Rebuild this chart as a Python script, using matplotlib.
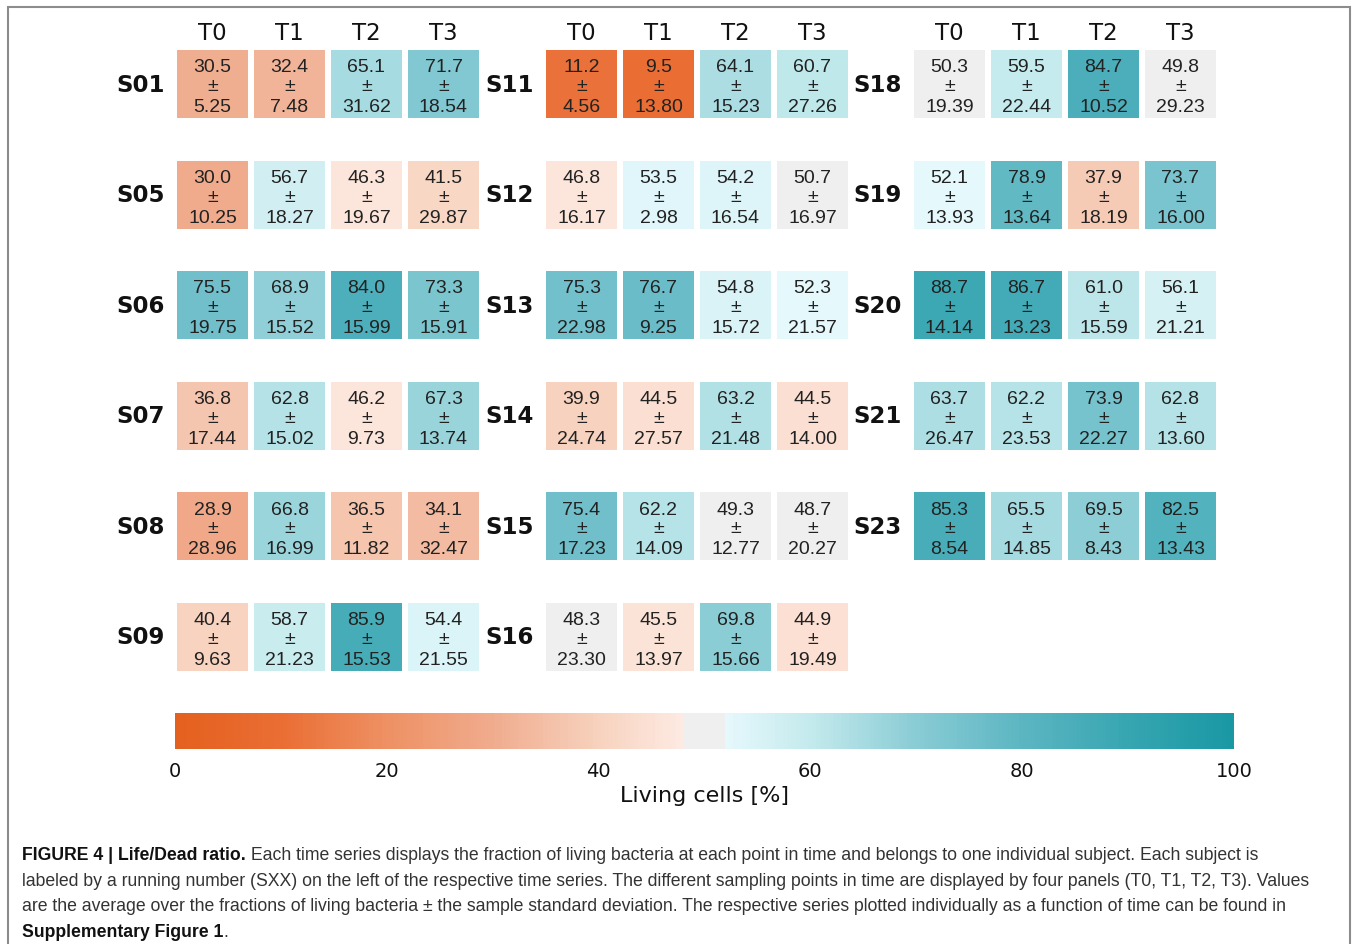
import matplotlib.pyplot as plt
from matplotlib.colors import LinearSegmentedColormap
from matplotlib.patches import Rectangle
import numpy as np

# living cell fractions (mean, std) per subject, time points T0..T3
times = ["T0", "T1", "T2", "T3"]

group1 = ["S01", "S05", "S06", "S07", "S08", "S09"]
mean1 = [[30.5, 32.4, 65.1, 71.7],
         [30.0, 56.7, 46.3, 41.5],
         [75.5, 68.9, 84.0, 73.3],
         [36.8, 62.8, 46.2, 67.3],
         [28.9, 66.8, 36.5, 34.1],
         [40.4, 58.7, 85.9, 54.4]]
std1 = [[5.25, 7.48, 31.62, 18.54],
        [10.25, 18.27, 19.67, 29.87],
        [19.75, 15.52, 15.99, 15.91],
        [17.44, 15.02, 9.73, 13.74],
        [28.96, 16.99, 11.82, 32.47],
        [9.63, 21.23, 15.53, 21.55]]

group2 = ["S11", "S12", "S13", "S14", "S15", "S16"]
mean2 = [[11.2, 9.5, 64.1, 60.7],
         [46.8, 53.5, 54.2, 50.7],
         [75.3, 76.7, 54.8, 52.3],
         [39.9, 44.5, 63.2, 44.5],
         [75.4, 62.2, 49.3, 48.7],
         [48.3, 45.5, 69.8, 44.9]]
std2 = [[4.56, 13.80, 15.23, 27.26],
        [16.17, 2.98, 16.54, 16.97],
        [22.98, 9.25, 15.72, 21.57],
        [24.74, 27.57, 21.48, 14.00],
        [17.23, 14.09, 12.77, 20.27],
        [23.30, 13.97, 15.66, 19.49]]

group3 = ["S18", "S19", "S20", "S21", "S23"]
mean3 = [[50.3, 59.5, 84.7, 49.8],
         [52.1, 78.9, 37.9, 73.7],
         [88.7, 86.7, 61.0, 56.1],
         [63.7, 62.2, 73.9, 62.8],
         [85.3, 65.5, 69.5, 82.5]]
std3 = [[19.39, 22.44, 10.52, 29.23],
        [13.93, 13.64, 18.19, 16.00],
        [14.14, 13.23, 15.59, 21.21],
        [26.47, 23.53, 22.27, 13.60],
        [8.54, 14.85, 8.43, 13.43]]

groups = [(group1, mean1, std1), (group2, mean2, std2), (group3, mean3, std3)]

# diverging orange -> grey -> teal map with a neutral band around 50 %
stops = [(0.00, (228, 96, 30)), (0.10, (234, 110, 52)), (0.20, (238, 145, 100)),
         (0.30, (240, 172, 142)), (0.40, (247, 210, 190)), (0.479, (253, 234, 226)),
         (0.48, (239, 239, 239)), (0.519, (239, 239, 239)), (0.52, (230, 248, 252)),
         (0.60, (196, 234, 237)), (0.70, (138, 204, 213)), (0.80, (92, 182, 194)),
         (0.90, (55, 166, 177)), (1.00, (25, 152, 164))]
cmap = LinearSegmentedColormap.from_list(
    "living", [(p, tuple(c / 255 for c in rgb)) for p, rgb in stops], N=256)

W, H = 1358, 945
fig = plt.figure(figsize=(W / 100, H / 100), dpi=100)


def px_axes(x, y, w, h):
    return fig.add_axes([x / W, 1 - (y + h) / H, w / W, h / H])


cell_font = dict(ha="center", va="center", fontsize=14, family="Liberation Sans",
                 color="#222222")
lefts = [174, 543, 911]
row_top, row_pitch = 48, 110.6
for g, (names, means, stds) in enumerate(groups):
    for r, name in enumerate(names):
        ax = px_axes(lefts[g], row_top + r * row_pitch, 308, 74)
        vals = np.array([means[r]])
        ax.pcolormesh(np.arange(5), [0, 1], vals, cmap=cmap, vmin=0, vmax=100,
                      edgecolors="white", linewidth=3)
        ax.set_xlim(0, 4)
        ax.set_ylim(0, 1)
        ax.axis("off")
        for c in range(4):
            ax.text(c + 0.5, 0.735, f"{means[r][c]:.1f}", **cell_font)
            ax.text(c + 0.5, 0.48, "±", **cell_font)
            ax.text(c + 0.5, 0.195, f"{stds[r][c]:.2f}", **cell_font)
        ax.text(-0.12, 0.5, name, ha="right", va="center", fontsize=16.5,
                fontweight="bold", color="#111111")
        if r == 0:
            for c, t in enumerate(times):
                ax.text(c + 0.5, 1.2, t, ha="center", va="center", fontsize=16.5,
                        color="#111111")

# colour bar
cax = px_axes(175, 714, 1059, 36)
sm = plt.cm.ScalarMappable(cmap=cmap, norm=plt.Normalize(0, 100))
cb = fig.colorbar(sm, cax=cax, orientation="horizontal", ticks=[0, 20, 40, 60, 80, 100])
cb.outline.set_visible(False)
cax.tick_params(length=0, pad=9, labelsize=14, colors="#111111")
cb.set_label("Living cells [%]", fontsize=16, color="#111111", labelpad=3)

# frame around figure and caption
fig.patches.append(Rectangle((8 / W, -0.05), 1342 / W, 1 - 8 / H + 0.05,
                             transform=fig.transFigure, fill=False,
                             edgecolor="#8c8c8c", linewidth=1.5))

cap_kw = dict(fontsize=12.7, family="Liberation Sans")
lines = [
    [("FIGURE 4 | Life/Dead ratio.", "bold"),
     (" Each time series displays the fraction of living bacteria at each point in time "
      "and belongs to one individual subject. Each subject is", "normal")],
    [("labeled by a running number (SXX) on the left of the respective time series. "
      "The different sampling points in time are displayed by four panels (T0, T1, T2, T3). "
      "Values", "normal")],
    [("are the average over the fractions of living bacteria ± the sample standard deviation. "
      "The respective series plotted individually as a function of time can be found in", "normal")],
    [("Supplementary Figure 1", "bold"), (".", "normal")],
]
for i, parts in enumerate(lines):
    y = 1 - (856 + i * 25.5) / H
    last = None
    for txt, wt in parts:
        col = "#111111" if wt == "bold" else "#333333"
        kw = dict(cap_kw, fontweight=wt, color=col)
        if last is None:
            last = fig.text(22 / W, y, txt, ha="left", va="center", **kw)
        else:
            last = fig.axes[0].annotate(txt, xy=(1, 0), xycoords=last, ha="left",
                                        va="bottom", annotation_clip=False, **kw)

fig.savefig("out.png", dpi=100)
